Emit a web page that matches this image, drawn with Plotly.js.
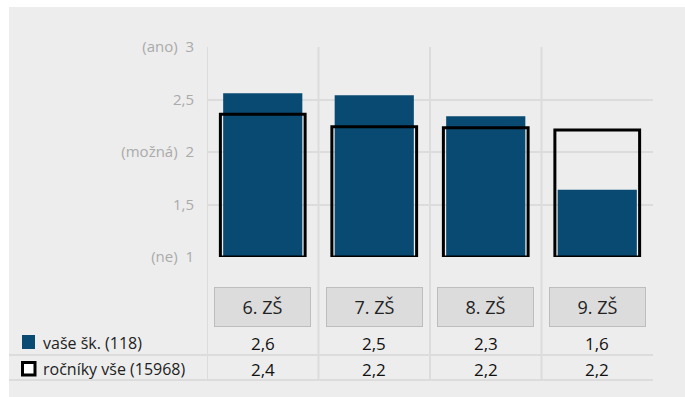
<!DOCTYPE html>
<html>
<head>
<meta charset="utf-8">
<script src="https://cdn.plot.ly/plotly-3.0.1.min.js"></script>
<style>
  html, body { margin: 0; padding: 0; background: #ffffff; }
  #chart { width: 685px; height: 397px; }
</style>
</head>
<body>
<div id="chart"></div>
<script>
// ---- data ----
var categories = ['6. ZŠ', '7. ZŠ', '8. ZŠ', '9. ZŠ'];
var schoolName = 'vaše šk. (118)';
var schoolValues = [2.56, 2.54, 2.34, 1.64];
var allName = 'ročníky vše (15968)';
var allValues = [2.36, 2.24, 2.23, 2.21];
var yTickVals = [1, 1.5, 2, 2.5, 3];
var yTickText = ['(ne)\u00a0\u00a01', '1,5', '(možná)\u00a0\u00a02', '2,5', '(ano)\u00a0\u00a03'];

// ---- layout helpers (pixel -> paper) ----
var L = 207, R = 653, T = 47, B = 257, W = 685, H = 397;
function px(x) { return (x - L) / (R - L); }
function py(y) { return (B - y) / (B - T); }
function fmt(v) { return v.toFixed(1).replace('.', ','); }

var GRID = '#dcdcdc';
var FONT = '"Open Sans", "Noto Sans", sans-serif';

var traces = [
  {
    type: 'bar', name: schoolName, x: categories,
    y: schoolValues.map(function (v) { return v - 1; }), base: 1,
    width: 0.71, marker: { color: '#084a72', line: { width: 0 } },
    cliponaxis: false, hoverinfo: 'skip'
  },
  {
    type: 'bar', name: allName, x: categories,
    y: allValues.map(function (v) { return v - 1; }), base: 1,
    width: 0.76, marker: { color: 'rgba(0,0,0,0)', line: { color: '#000000', width: 3 } },
    cliponaxis: false, hoverinfo: 'skip'
  }
];

var shapes = [];
// gray background
shapes.push({ type: 'rect', xref: 'paper', yref: 'paper', layer: 'below',
  x0: px(9), x1: px(W + 5), y0: py(7), y1: py(H + 5),
  fillcolor: '#ededed', line: { width: 0 } });
// vertical category separators
for (var i = 0; i < categories.length; i++) {
  shapes.push({ type: 'line', xref: 'x', yref: 'paper', layer: 'below',
    x0: i - 0.5, x1: i - 0.5, y0: py(T), y1: py(380),
    line: { color: GRID, width: 2 } });
}
// table row separators
[355, 380].forEach(function (yy) {
  shapes.push({ type: 'line', xref: 'paper', yref: 'paper', layer: 'below',
    x0: px(9), x1: px(R), y0: py(yy), y1: py(yy),
    line: { color: GRID, width: 2 } });
});
// legend swatches
shapes.push({ type: 'rect', xref: 'paper', yref: 'paper',
  x0: px(22), x1: px(35), y0: py(349), y1: py(335),
  fillcolor: '#084a72', line: { width: 0 } });
shapes.push({ type: 'rect', xref: 'paper', yref: 'paper',
  x0: px(22.5), x1: px(35), y0: py(375), y1: py(362.5),
  fillcolor: '#ffffff', line: { color: '#000000', width: 3 } });

var annotations = [];
categories.forEach(function (c, i) {
  annotations.push({ xref: 'x', yref: 'paper', x: i, y: py(307), yanchor: 'middle', xanchor: 'center',
    text: c, showarrow: false, width: 95, height: 38, valign: 'middle',
    bgcolor: '#dcdcdc', bordercolor: '#bdbdbd', borderwidth: 1, borderpad: 0,
    font: { family: FONT, size: 18, color: '#222222' } });
  annotations.push({ xref: 'x', yref: 'paper', x: i, y: py(343), yanchor: 'middle', xanchor: 'center',
    text: fmt(schoolValues[i]), showarrow: false,
    font: { family: FONT, size: 17, color: '#111111' } });
  annotations.push({ xref: 'x', yref: 'paper', x: i, y: py(369), yanchor: 'middle', xanchor: 'center',
    text: fmt(allValues[i]), showarrow: false,
    font: { family: FONT, size: 17, color: '#111111' } });
});
annotations.push({ xref: 'paper', yref: 'paper', x: px(41), y: py(343), xanchor: 'left', yanchor: 'middle',
  text: schoolName, showarrow: false, font: { family: FONT, size: 16, color: '#222222' } });
annotations.push({ xref: 'paper', yref: 'paper', x: px(41), y: py(369), xanchor: 'left', yanchor: 'middle',
  text: allName, showarrow: false, font: { family: FONT, size: 16, color: '#222222' } });

var layout = {
  width: W, height: H,
  margin: { l: L, r: W - R, t: T, b: H - B, pad: 0 },
  paper_bgcolor: '#ffffff', plot_bgcolor: 'rgba(0,0,0,0)',
  barmode: 'overlay', showlegend: false,
  font: { family: FONT },
  xaxis: { type: 'category', range: [-0.5, 3.5], showticklabels: false,
    showgrid: false, zeroline: false, showline: false, fixedrange: true },
  yaxis: { range: [1, 3], tickvals: yTickVals, ticktext: yTickText,
    showgrid: true, gridcolor: GRID, gridwidth: 2, zeroline: false, showline: false,
    ticks: '', ticklabelstandoff: 12,
    tickfont: { family: FONT, size: 15, color: '#aaaaaa' }, fixedrange: true },
  shapes: shapes,
  annotations: annotations
};

Plotly.newPlot('chart', traces, layout, { displayModeBar: false, staticPlot: true });
</script>
</body>
</html>
